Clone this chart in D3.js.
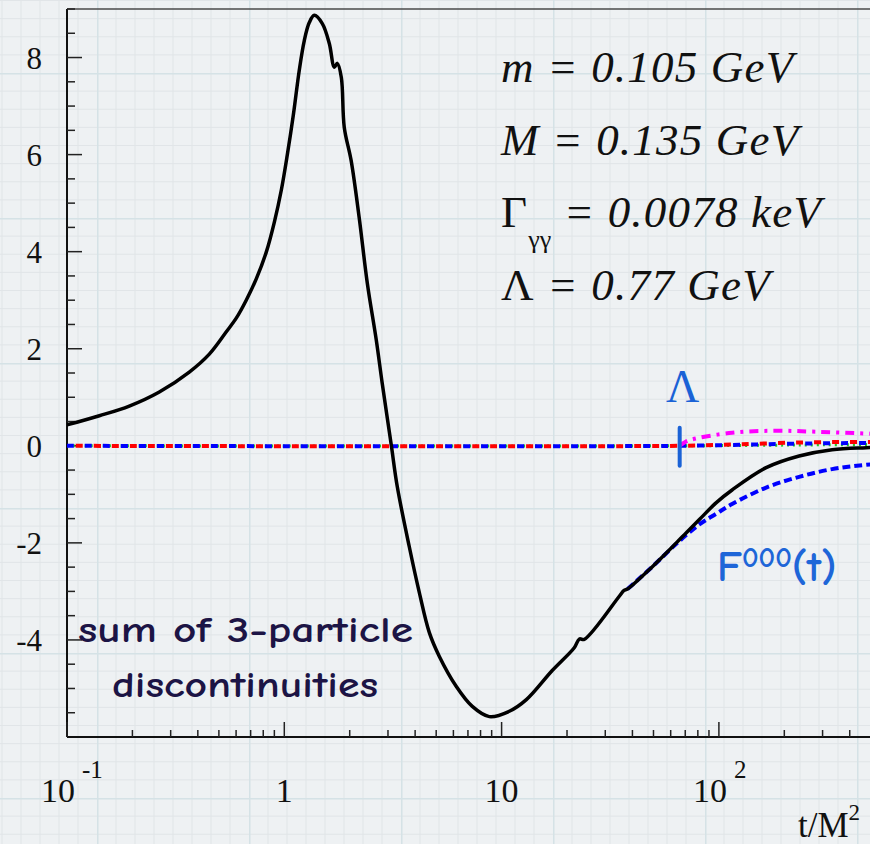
<!DOCTYPE html>
<html>
<head>
<meta charset="utf-8">
<script src="https://cdn.jsdelivr.net/npm/d3@7"></script>
<style>
  html, body { margin: 0; padding: 0; background: #eef1f3; }
  svg { display: block; }
</style>
</head>
<body>
<svg id="chart" width="870" height="844"></svg>
<script>
// Sum of 3-particle discontinuities (solid black)
const sumT = [0.1, 0.1409, 0.1935, 0.266, 0.3654, 0.4518, 0.541, 0.601, 0.668, 0.743, 0.826, 0.900,
  0.969, 1.032, 1.100, 1.172, 1.236, 1.303, 1.374, 1.496, 1.611, 1.699, 1.754, 1.83, 1.888, 2.03,
  2.21, 2.41, 2.65, 2.82, 3.11, 3.31, 3.76, 4.18, 4.65, 5.17, 6.19, 7.33, 8.78, 10.85, 13.0, 17.1,
  21.6, 22.8, 24.0, 34.8, 36.6, 38.0, 49.4, 63.7, 70.8, 81.3, 97.3, 115, 165, 234, 332, 477, 1000];
const sumV = [0.43, 0.62, 0.82, 1.11, 1.52, 1.89, 2.35, 2.63, 3.00, 3.44, 3.99, 4.61,
  5.27, 5.99, 6.81, 7.74, 8.35, 8.72, 8.87, 8.70, 8.29, 7.80, 7.88, 7.59, 6.56, 5.88,
  4.71, 3.35, 2.18, 1.30, 0.0, -0.84, -2.08, -3.02, -3.85, -4.34, -4.96, -5.37, -5.58, -5.47, -5.23, -4.63,
  -4.16, -3.98, -3.99, -3.10, -2.98, -2.95, -2.49, -2.00, -1.79, -1.52, -1.17, -0.91, -0.45, -0.21, -0.08, -0.04, -0.01];

// F000(t) (blue dashed), visible where it leaves the sum curve
const f000T = [38.0, 49.4, 63.7, 81.3, 97.3, 115, 165, 234, 332, 477, 1000];
const f000V = [-2.95, -2.49, -2.02, -1.62, -1.40, -1.20, -0.86, -0.64, -0.48, -0.39, -0.28];

// Remaining contributions, flat until the cutoff
const magentaT = [66, 70, 75, 115, 180, 280, 500, 1000];
const magentaV = [0, 0.08, 0.13, 0.27, 0.31, 0.29, 0.25, 0.2];
const redT = [0.1, 66, 120, 250, 500, 1000];
const redV = [0, 0, 0.03, 0.07, 0.08, 0.08];
const blueZeroT = [0.1, 66, 200, 500, 1000];
const blueZeroV = [0, 0, 0.04, 0.06, 0.06];
const greenT = [0.1, 66, 300, 1000];
const greenV = [0, 0, 0.02, 0.03];

// Cutoff position in t/M^2
const lambdaT = 66;

// Axis ticks
const yMajorTicks = [-4, -2, 0, 2, 4, 6, 8];
const yMajorLabels = ["-4", "-2", "0", "2", "4", "6", "8"];
const xLabelTicks = [0.1, 1, 10, 100];
const xLabelBase = ["10", "1", "10", "10"];
const xLabelSup = ["-1", "", "", "2"];

// Parameter block
const paramLines = [
  { lead: "m", sub: "", rest: " = 0.105 GeV", leadItalic: true },
  { lead: "M", sub: "", rest: " = 0.135 GeV", leadItalic: true },
  { lead: "\u0393", sub: "\u03b3\u03b3", rest: " = 0.0078 keV", leadItalic: false },
  { lead: "\u039b", sub: "", rest: " = 0.77 GeV", leadItalic: false }
];

const W = 870, H = 844;
const plot = { left: 67, top: 9, bottom: 737, decade: 217.3 };
const svg = d3.select("#chart");

// Graph-paper backdrop
const defs = svg.append("defs");
const gw = 152, gh = 145, nx = 8, ny = 8;
const pat = defs.append("pattern")
  .attr("id", "paper").attr("patternUnits", "userSpaceOnUse")
  .attr("x", 97).attr("y", 73).attr("width", gw).attr("height", gh);
pat.append("rect").attr("width", gw).attr("height", gh).attr("fill", "#eef1f3");
for (let i = 1; i < nx; i++) {
  pat.append("line").attr("x1", i * gw / nx).attr("x2", i * gw / nx).attr("y1", 0).attr("y2", gh)
    .attr("stroke", "#e1e5e8").attr("stroke-width", 1);
}
for (let j = 1; j < ny; j++) {
  pat.append("line").attr("y1", j * gh / ny).attr("y2", j * gh / ny).attr("x1", 0).attr("x2", gw)
    .attr("stroke", "#e1e5e8").attr("stroke-width", 1);
}
pat.append("line").attr("x1", 0).attr("x2", 0).attr("y1", 0).attr("y2", gh)
  .attr("stroke", "#d5e2e6").attr("stroke-width", 3);
pat.append("line").attr("y1", 0).attr("y2", 0).attr("x1", 0).attr("x2", gw)
  .attr("stroke", "#d5e2e6").attr("stroke-width", 3);
svg.append("rect").attr("width", W).attr("height", H).attr("fill", "url(#paper)");

// Scales
const x = d3.scaleLog().domain([0.1, 1000]).range([plot.left, plot.left + 4 * plot.decade]);
const y = d3.scaleLinear().domain([-6, 9]).range([plot.bottom, plot.top]);
const right = x.range()[1];

defs.append("clipPath").attr("id", "plotClip").append("rect")
  .attr("x", plot.left).attr("y", plot.top).attr("width", right - plot.left).attr("height", plot.bottom - plot.top);

const serif = "'Liberation Serif', 'Times New Roman', Times, serif";
const comic = "'Comic Sans MS', 'Comic Neue', 'Noto Sans', sans-serif";

// Frame
svg.append("line").attr("x1", plot.left).attr("x2", right).attr("y1", plot.top).attr("y2", plot.top)
  .attr("stroke", "#4a4a4a").attr("stroke-width", 1.5);

// Y axis with inward ticks
const yAxisG = svg.append("g");
yAxisG.append("line").attr("x1", plot.left).attr("x2", plot.left).attr("y1", plot.top).attr("y2", plot.bottom)
  .attr("stroke", "#111").attr("stroke-width", 2);
const yMinor = d3.range(-6, 9.001, 0.5);
yAxisG.selectAll("line.tick").data(yMinor).join("line").attr("class", "tick")
  .attr("x1", plot.left).attr("x2", d => plot.left + (Math.abs(d % 2) < 1e-9 ? 15 : 8))
  .attr("y1", d => y(d)).attr("y2", d => y(d))
  .attr("stroke", "#222").attr("stroke-width", 1.5);
yAxisG.selectAll("text").data(yMajorTicks).join("text")
  .attr("x", 42).attr("y", d => y(d) + 11)
  .attr("text-anchor", "end").attr("font-family", serif).attr("font-size", 31).attr("fill", "#111")
  .text((d, i) => yMajorLabels[i]);

// X axis with upward ticks
const xAxisG = svg.append("g");
xAxisG.append("line").attr("x1", plot.left).attr("x2", right).attr("y1", plot.bottom).attr("y2", plot.bottom)
  .attr("stroke", "#111").attr("stroke-width", 2);
const xTicks = [];
[0.1, 1, 10, 100].forEach(dec => { for (let k = 1; k <= 9; k++) xTicks.push({ v: dec * k, major: k === 1 }); });
xTicks.push({ v: 1000, major: true });
xAxisG.selectAll("line.tick").data(xTicks).join("line").attr("class", "tick")
  .attr("x1", d => x(d.v)).attr("x2", d => x(d.v))
  .attr("y1", plot.bottom).attr("y2", d => plot.bottom - (d.major ? 15 : 7))
  .attr("stroke", "#222").attr("stroke-width", 1.5);
xLabelTicks.forEach((v, i) => {
  const t = xAxisG.append("text").attr("y", 802)
    .attr("font-family", serif).attr("font-size", 34).attr("fill", "#111");
  if (xLabelSup[i]) {
    t.attr("x", x(v) + 8).attr("text-anchor", "end").text(xLabelBase[i]);
    xAxisG.append("text").attr("x", x(v) + 15).attr("y", 778)
      .attr("font-family", serif).attr("font-size", 25).attr("fill", "#111").text(xLabelSup[i]);
  } else {
    t.attr("x", x(v)).attr("text-anchor", "middle").text(xLabelBase[i]);
  }
});
const xTitle = svg.append("text").attr("x", 798).attr("y", 837)
  .attr("font-family", serif).attr("font-size", 35).attr("fill", "#111");
xTitle.append("tspan").text("t/M");
xTitle.append("tspan").attr("dy", -17).attr("font-size", 23).text("2");

// Curves
const line = d3.line().x(d => x(d[0])).y(d => y(d[1])).curve(d3.curveCatmullRom.alpha(0.5));
const zip = (a, b) => a.map((t, i) => [t, b[i]]);
const curves = svg.append("g").attr("clip-path", "url(#plotClip)");

curves.append("path").datum(zip(greenT, greenV)).attr("d", line)
  .attr("fill", "none").attr("stroke", "#22cc22").attr("stroke-width", 3).attr("stroke-dasharray", "2,4");
curves.append("path").datum(zip(blueZeroT, blueZeroV)).attr("d", line)
  .attr("fill", "none").attr("stroke", "#0000ff").attr("stroke-width", 4).attr("stroke-dasharray", "7,11");
curves.append("path").datum(zip(redT, redV)).attr("d", line)
  .attr("fill", "none").attr("stroke", "#ff0000").attr("stroke-width", 4).attr("stroke-dasharray", "7,11")
  .attr("stroke-dashoffset", 9);
curves.append("path").datum(zip(magentaT, magentaV)).attr("d", line)
  .attr("fill", "none").attr("stroke", "#ff00ff").attr("stroke-width", 4).attr("stroke-dasharray", "9,6,3,6");
curves.append("path").datum(zip(f000T, f000V)).attr("d", line)
  .attr("fill", "none").attr("stroke", "#0000ff").attr("stroke-width", 4).attr("stroke-dasharray", "8,4");
curves.append("path").datum(zip(sumT, sumV)).attr("d", line)
  .attr("fill", "none").attr("stroke", "#000").attr("stroke-width", 3.5).attr("stroke-linejoin", "round");

// Cutoff marker
svg.append("line").attr("x1", x(lambdaT)).attr("x2", x(lambdaT)).attr("y1", y(0) - 18).attr("y2", y(0) + 20)
  .attr("stroke", "#1a62d6").attr("stroke-width", 4).attr("stroke-linecap", "round");
svg.append("text").attr("x", x(lambdaT) + 3).attr("y", 402).attr("text-anchor", "middle")
  .attr("font-family", serif).attr("font-size", 46).attr("fill", "#1a62d6").text("\u039b");

// Parameter block
const paramBase = [82, 155, 227, 300];
paramLines.forEach((p, i) => {
  const t = svg.append("text").attr("x", 501).attr("y", paramBase[i])
    .attr("font-family", serif).attr("font-size", 45).attr("letter-spacing", 1.2).attr("fill", "#111");
  t.append("tspan").attr("font-style", p.leadItalic ? "italic" : "normal").text(p.lead);
  if (p.sub) {
    t.append("tspan").attr("font-size", 26).attr("letter-spacing", 0).attr("dy", 21).text(p.sub);
    t.append("tspan").attr("dy", -21).attr("font-style", "italic").text(p.rest);
  } else {
    t.append("tspan").attr("font-style", "italic").text(p.rest);
  }
});

// Annotations
svg.append("text").attr("x", 717).attr("y", 581)
  .attr("font-family", comic).attr("font-size", 43).attr("font-weight", 600).attr("fill", "#1e66d8")
  .call(t => {
    t.append("tspan").text("F");
    t.append("tspan").attr("dy", -14).attr("font-size", 29).text("000");
    t.append("tspan").attr("dy", 14).text("(t)");
  });
svg.append("text").attr("x", 78).attr("y", 642)
  .attr("font-family", comic).attr("font-size", 36).attr("font-weight", 600).attr("fill", "#1c1445")
  .attr("textLength", 335).attr("lengthAdjust", "spacingAndGlyphs").text("sum of 3-particle");
svg.append("text").attr("x", 112).attr("y", 697)
  .attr("font-family", comic).attr("font-size", 36).attr("font-weight", 600).attr("fill", "#1c1445")
  .attr("textLength", 266).attr("lengthAdjust", "spacingAndGlyphs").text("discontinuities");
</script>
</body>
</html>
